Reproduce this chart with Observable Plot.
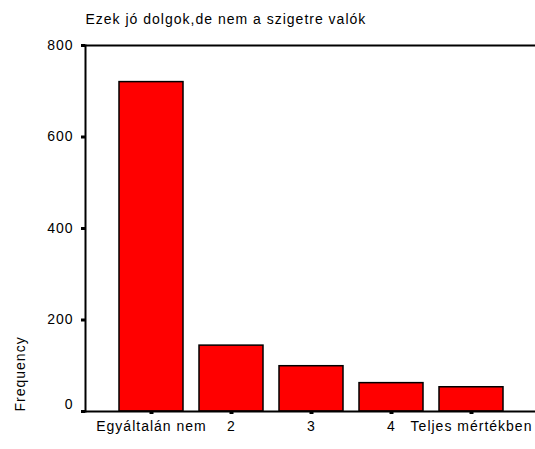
<!DOCTYPE html>
<html><head><meta charset="utf-8">
<script src="https://cdn.jsdelivr.net/npm/d3@7"></script>
<script src="https://cdn.jsdelivr.net/npm/@observablehq/plot@0.6"></script>
<style>body{margin:0;background:#fff}</style>
</head><body><div id="chart"></div>
<script>
const title = "Ezek jó dolgok,de nem a szigetre valók";
const yLabel = "Frequency";
const categories = ["Egyáltalán nem", "2", "3", "4", "Teljes mértékben"];
const frequencies = [720, 144, 99, 62, 53];
const yTicks = [0, 200, 400, 600, 800];

const data = categories.map((c, i) => ({category: c, frequency: frequencies[i]}));

const chart = Plot.plot({
  width: 535, height: 449,
  marginLeft: 85, marginRight: 0, marginTop: 45, marginBottom: 38,
  style: {fontFamily: "'Liberation Sans', Arial, sans-serif", fontSize: "14px", letterSpacing: "1px", color: "black", background: "white"},
  x: {type: "band", domain: categories, paddingInner: 0.2, paddingOuter: 0.41, align: 0.52},
  y: {domain: [0, 800]},
  marks: [
    Plot.barY(data, {x: "category", y: "frequency", fill: "#ff0000", stroke: "black", strokeWidth: 1.5}),
    Plot.ruleY([0, 800], {stroke: "black", strokeWidth: 2}),
    Plot.frame({anchor: "left", stroke: "black", strokeWidth: 2}),
    Plot.axisX({tickSize: 3, tickPadding: 7, strokeWidth: 4, label: null}),
    Plot.axisY(yTicks, {tickSize: 4, tickPadding: 8, strokeWidth: 3, label: null, tickFormat: d => d === 0 ? "" : d}),
    Plot.axisY([0], {tickSize: 0, tickPadding: 12, dy: -7, label: null}),
    Plot.text([title], {frameAnchor: "top-left", textAnchor: "start", lineAnchor: "middle", dy: -26}),
    Plot.text([yLabel], {frameAnchor: "bottom-left", rotate: -90, textAnchor: "start", lineAnchor: "middle", dx: -65})
  ]
});
document.getElementById("chart").appendChild(chart);
</script>
</body></html>
